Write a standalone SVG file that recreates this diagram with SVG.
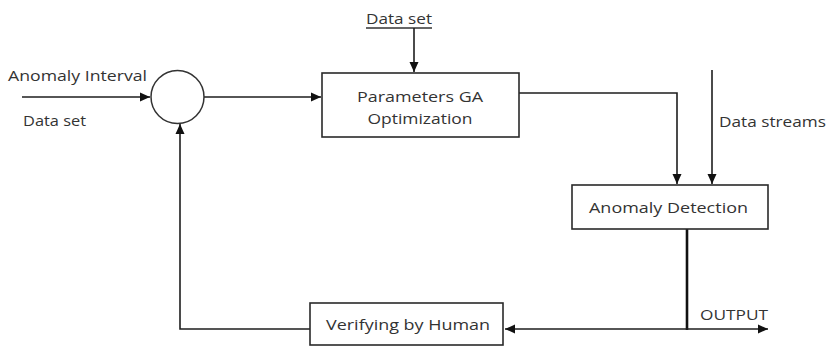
<svg xmlns="http://www.w3.org/2000/svg" width="828" height="348" viewBox="0 0 828 348">
<style>
  .box { fill: #fff; stroke: #2a2a2a; stroke-width: 1.6; }
  .ln { fill: none; stroke: #1e1e1e; stroke-width: 1.6; }
  .thick { fill: none; stroke: #111; stroke-width: 2.6; }
  .t { font-family: "Open Sans", "Liberation Sans", sans-serif; font-size: 15px; fill: #333; }
  .c { text-anchor: middle; }
</style>
<defs>
  <marker id="ah" markerUnits="userSpaceOnUse" markerWidth="12" markerHeight="12" viewBox="0 0 12 12" refX="11" refY="6" orient="auto">
    <path d="M1,1.5 L11,6 L1,10.5 Z" fill="#111"/>
  </marker>
</defs>
<rect width="828" height="348" fill="#fff"/>
<g id="labels">
  <text class="t" x="8" y="81" textLength="139" lengthAdjust="spacingAndGlyphs">Anomaly Interval</text>
  <text class="t" x="23" y="126" textLength="63" lengthAdjust="spacingAndGlyphs">Data set</text>
  <text class="t" x="366" y="24" textLength="66" lengthAdjust="spacingAndGlyphs">Data set</text>
  <line x1="366" y1="28" x2="432" y2="28" stroke="#333" stroke-width="1.3"/>
  <text class="t" x="719" y="127" textLength="107" lengthAdjust="spacingAndGlyphs">Data streams</text>
  <text class="t" x="700" y="320" textLength="68" lengthAdjust="spacingAndGlyphs">OUTPUT</text>
</g>
<g id="connectors">
  <line class="ln" x1="22" y1="97" x2="150" y2="97" marker-end="url(#ah)"/>
  <line class="ln" x1="204" y1="97" x2="321" y2="97" marker-end="url(#ah)"/>
  <line class="ln" x1="414" y1="28" x2="414" y2="72" marker-end="url(#ah)"/>
  <polyline class="ln" points="519,93 677,93 677,184" marker-end="url(#ah)"/>
  <line class="ln" x1="712" y1="70" x2="712" y2="184" marker-end="url(#ah)"/>
  <line class="thick" x1="687" y1="229" x2="687" y2="330"/>
  <line class="ln" x1="687" y1="329" x2="768" y2="329" stroke-width="2" marker-end="url(#ah)"/>
  <line class="ln" x1="687" y1="329" x2="505" y2="329" stroke-width="2.2" marker-end="url(#ah)"/>
  <polyline class="ln" points="310,329 180,329 180,124" stroke-width="1.8" marker-end="url(#ah)"/>
</g>
<g id="sum">
  <circle cx="177.5" cy="97" r="26.5" fill="#fff" stroke="#333" stroke-width="1.5"/>
</g>
<g id="ga">
  <rect class="box" x="322" y="73" width="197" height="64"/>
  <text class="t c" x="420" y="102" textLength="126" lengthAdjust="spacingAndGlyphs">Parameters GA</text>
  <text class="t c" x="420" y="124" textLength="105" lengthAdjust="spacingAndGlyphs">Optimization</text>
</g>
<g id="detection">
  <rect class="box" x="572" y="185" width="196" height="44"/>
  <text class="t c" x="668.5" y="213" textLength="159" lengthAdjust="spacingAndGlyphs">Anomaly Detection</text>
</g>
<g id="verify">
  <rect class="box" x="310" y="303" width="193" height="42"/>
  <text class="t c" x="408" y="330" textLength="164" lengthAdjust="spacingAndGlyphs">Verifying by Human</text>
</g>
</svg>
